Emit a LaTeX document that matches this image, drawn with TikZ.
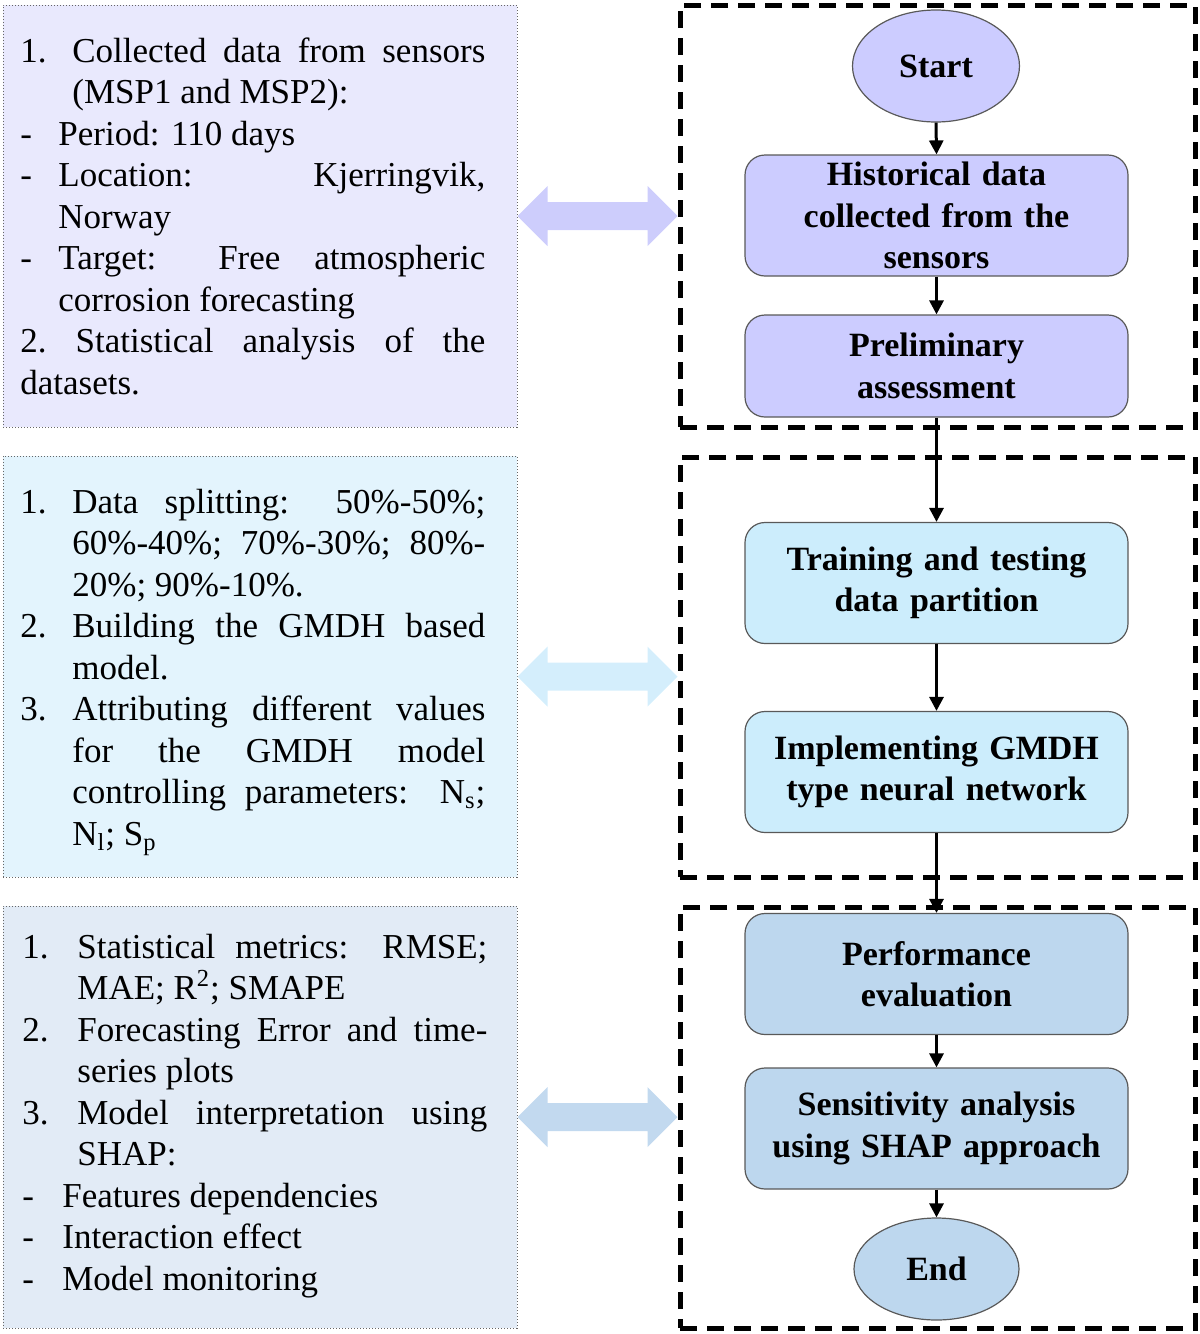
\documentclass[tikz,border=0pt]{standalone}
\usepackage{fontspec}
\setmainfont{Liberation Serif}
\usetikzlibrary{arrows.meta,calc,shapes.geometric}

\definecolor{lilac}{HTML}{CCCCFF}
\definecolor{lilacpale}{HTML}{E9E9FD}
\definecolor{lilacarrow}{HTML}{CDCDFC}
\definecolor{cyanish}{HTML}{CCEDFC}
\definecolor{cyanpale}{HTML}{E3F4FD}
\definecolor{cyanarrow}{HTML}{D4EEFC}
\definecolor{blueish}{HTML}{BDD7EE}
\definecolor{bluepale}{HTML}{E2EBF6}
\definecolor{bluearrow}{HTML}{C2D9EF}

\def\fatarrow[#1](#2)(#3){\fill[#1] let \p1=(#2), \p2=(#3) in (\x1,\y1) -- ({\x1+15pt},{\y1+15pt}) -- ({\x1+15pt},{\y1+7pt}) -- ({\x2-15pt},{\y1+7pt}) -- ({\x2-15pt},{\y1+15pt}) -- (\x2,\y1) -- ({\x2-15pt},{\y1-15pt}) -- ({\x2-15pt},{\y1-7pt}) -- ({\x1+15pt},{\y1-7pt}) -- ({\x1+15pt},{\y1-15pt}) -- cycle;}

\newcommand{\numline}[2][26pt]{\hangindent=#1\relax\hangafter=1\relax\makebox[#1][l]{#2}\ignorespaces}
\newcommand{\dashline}[1][19pt]{\hangindent=#1\relax\hangafter=1\relax\makebox[#1][l]{-}\ignorespaces}
\newcommand{\infofont}{\fontsize{17.5}{20.75}\selectfont\hyphenpenalty=10000\relax\exhyphenpenalty=10000\relax\tolerance=9999\relax}

\tikzset{
	frame/.style={rectangle, draw, line width=2.5pt, dash pattern=on 8.5pt off 5pt, minimum width=257.5pt, inner sep=0pt},
	infobox/.style={rectangle, draw=black!60, densely dotted, line width=0.5pt, minimum width=257pt, inner sep=0pt},
	infotext/.style={inner sep=0pt, text width=232.5pt, align=justify, font=\infofont},
	flowbox/.style={rectangle, rounded corners=10pt, draw=black!65, line width=0.6pt, minimum width=191.5pt, minimum height=60.5pt, text width=185pt, align=center, inner sep=0pt, font=\bfseries\fontsize{17}{20.75}\selectfont},
	terminal/.style={ellipse, draw=black!65, line width=0.6pt, minimum width=83.5pt, minimum height=56pt, inner sep=0pt, font=\bfseries\fontsize{17}{20.75}\selectfont},
	flow/.style={line width=1.5pt, -{Triangle[width=7pt,length=7pt]}}
}

\begin{document}
\begin{tikzpicture}[x=0.5pt,y=-0.5pt]
			%%%%% START %%%%%
			\useasboundingbox (0,0) rectangle (1200,1334);
			
			\node[frame, minimum height=211pt] (frame1) at (937.5,216) {};
			\node[frame, minimum height=210pt] (frame2) at (937.5,667) {};
			\node[frame, minimum height=210.5pt] (frame3) at (937.5,1117.5) {};
			
			\node[infobox, fill=lilacpale, minimum height=211pt] (info1) at (260,216) {};
			\node[infobox, fill=cyanpale, minimum height=210.5pt] (info2) at (260,666.5) {};
			\node[infobox, fill=bluepale, minimum height=211pt] (info3) at (260,1117) {};
			
			\node[infotext, anchor=base west] (text1) at (20,62) {%
				\numline{1.}Collected data from sensors\linebreak (MSP1 and MSP2):\par
				\dashline Period: 110 days\par
				\dashline Location: Kjerringvik,\linebreak Norway\par
				\dashline Target: Free atmospheric\linebreak corrosion forecasting\par
				2.\ Statistical analysis of the\linebreak datasets.\par};
			
			\node[infotext, anchor=base west] (text2) at (20,513) {%
				\numline{1.}Data splitting: 50\%-50\%;\linebreak 60\%-40\%; 70\%-30\%; 80\%-\linebreak 20\%; 90\%-10\%.\par
				\numline{2.}Building the GMDH based\linebreak model.\par
				\numline{3.}Attributing different values\linebreak for the GMDH model\linebreak controlling parameters: N\textsubscript{s};\linebreak N\textsubscript{l}; S\textsubscript{p}\par};
			
			\node[infotext, anchor=base west] (text3) at (22,958) {%
				\numline[27.5pt]{1.}Statistical metrics: RMSE;\linebreak MAE; R\textsuperscript{2}; SMAPE\par
				\numline[27.5pt]{2.}Forecasting Error and time-\linebreak series plots\par
				\numline[27.5pt]{3.}Model interpretation using\linebreak SHAP:\par
				\dashline[20pt] Features dependencies\par
				\dashline[20pt] Interaction effect\par
				\dashline[20pt] Model monitoring\par};
			
			%%%%% FLOW %%%%%
			\node[terminal, fill=lilac] (start) at (936,66) {Start};
			\node[flowbox, fill=lilac] (hist) at (936.5,215.5) {Historical data\\collected from the\\sensors};
			\node[flowbox, fill=lilac, minimum height=51pt] (prelim) at (936.5,366) {Preliminary\\assessment};
			\node[flowbox, fill=cyanish] (train) at (936.5,583) {Training and testing\\data partition};
			\node[flowbox, fill=cyanish] (impl) at (936.5,772) {Implementing GMDH\\type neural network};
			\node[flowbox, fill=blueish] (perf) at (936.5,974) {Performance\\evaluation};
			\node[flowbox, fill=blueish] (sens) at (936.5,1128.5) {Sensitivity analysis\\using SHAP approach};
			\node[terminal, fill=blueish, minimum width=82.5pt, minimum height=51pt] (end) at (936.5,1269) {End};
			
			\draw[flow] (start.south) -- (hist.north);
			\draw[flow] (hist.south) -- (prelim.north);
			\draw[flow] (prelim.south) -- (train.north);
			\draw[flow] (train.south) -- (impl.north);
			\draw[flow] (impl.south) -- (perf.north);
			\draw[flow] (perf.south) -- (sens.north);
			\draw[flow] (sens.south) -- (end.north);
			
			%%%%% LINKS %%%%%
			\fatarrow[lilacarrow](info1.east)(frame1.west)
			\coordinate (tail2) at ($(info2.east)+(0,-5pt)$);
			\fatarrow[cyanarrow](tail2)(frame2.west)
			\fatarrow[bluearrow](info3.east)(frame3.west)
			
			%%%%% END %%%%%
\end{tikzpicture}
\end{document}
